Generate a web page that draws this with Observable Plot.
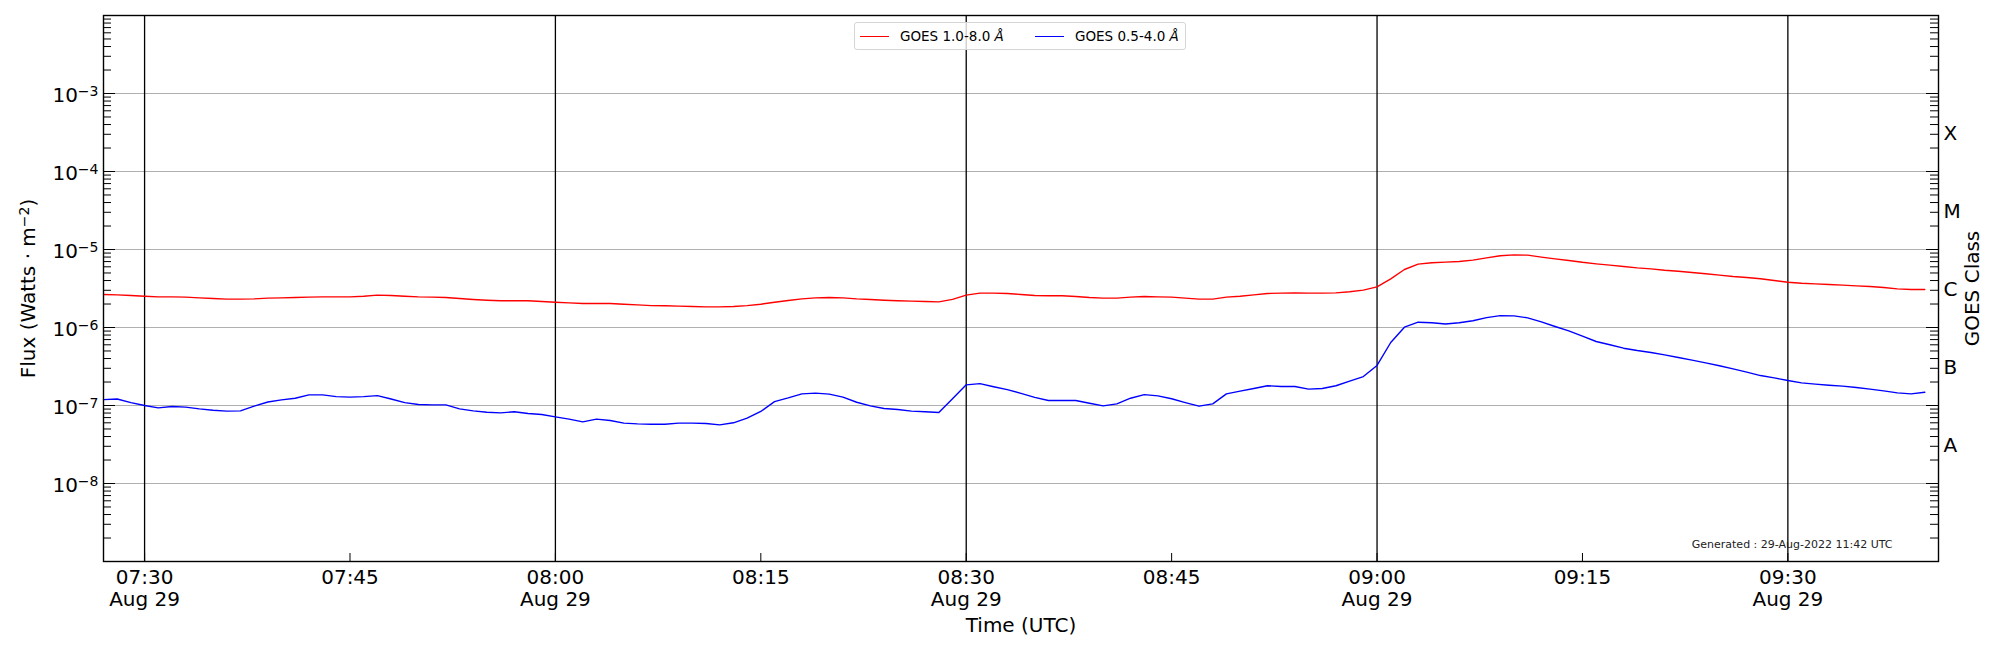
<!DOCTYPE html>
<html><head><meta charset="utf-8">
<script src="https://cdn.jsdelivr.net/npm/d3@7"></script>
<script src="https://cdn.jsdelivr.net/npm/@observablehq/plot@0.6"></script>
<style>
html,body{margin:0;padding:0;background:#fff;}
#wrap{position:relative;width:2000px;height:650px;font-family:"DejaVu Sans",sans-serif;}
#legend{position:absolute;left:854px;top:22px;width:332px;height:28px;border:1px solid #d5d5d5;border-radius:3px;background:rgba(255,255,255,0.8);box-sizing:border-box;}
.sw{position:absolute;top:13px;width:29px;height:0;border-top:1.4px solid;}
.lt{position:absolute;top:0;line-height:27px;font-size:13.5px;color:#000;white-space:nowrap;}
</style></head>
<body><div id="wrap"><div id="chart"></div><div id="legend"></div></div>
<script>
// ---- data (1-minute cadence starting 07:27 UTC, 29 Aug 2022) ----
const startTime = "2022-08-29T07:27:00Z";
const seriesNames = ["GOES 1.0-8.0", "GOES 0.5-4.0"];
const seriesUnit = "Å";
const seriesColors = ["#ff0000", "#0000ff"];

const xrsLong = [
2.65e-6,2.62e-6,2.57e-6,2.52e-6,2.47e-6,2.47e-6,2.45e-6,2.40e-6,2.35e-6,2.31e-6,
2.31e-6,2.33e-6,2.38e-6,2.40e-6,2.42e-6,2.45e-6,2.47e-6,2.47e-6,2.47e-6,2.52e-6,
2.60e-6,2.57e-6,2.52e-6,2.47e-6,2.45e-6,2.42e-6,2.35e-6,2.29e-6,2.24e-6,2.20e-6,
2.20e-6,2.20e-6,2.15e-6,2.11e-6,2.07e-6,2.03e-6,2.03e-6,2.03e-6,1.99e-6,1.95e-6,
1.91e-6,1.90e-6,1.88e-6,1.86e-6,1.84e-6,1.84e-6,1.86e-6,1.91e-6,1.99e-6,2.11e-6,
2.22e-6,2.33e-6,2.40e-6,2.42e-6,2.40e-6,2.33e-6,2.29e-6,2.24e-6,2.20e-6,2.18e-6,
2.15e-6,2.13e-6,2.29e-6,2.60e-6,2.76e-6,2.76e-6,2.73e-6,2.65e-6,2.57e-6,2.55e-6,
2.55e-6,2.50e-6,2.42e-6,2.38e-6,2.38e-6,2.45e-6,2.50e-6,2.47e-6,2.45e-6,2.38e-6,
2.31e-6,2.31e-6,2.45e-6,2.52e-6,2.62e-6,2.73e-6,2.76e-6,2.78e-6,2.76e-6,2.76e-6,
2.78e-6,2.87e-6,3.01e-6,3.32e-6,4.21e-6,5.54e-6,6.49e-6,6.75e-6,6.88e-6,7.02e-6,
7.30e-6,7.82e-6,8.30e-6,8.54e-6,8.46e-6,7.98e-6,7.59e-6,7.23e-6,6.85e-6,6.55e-6,
6.30e-6,6.05e-6,5.82e-6,5.65e-6,5.43e-6,5.27e-6,5.07e-6,4.88e-6,4.69e-6,4.51e-6,
4.38e-6,4.21e-6,4.00e-6,3.81e-6,3.70e-6,3.63e-6,3.56e-6,3.49e-6,3.42e-6,3.35e-6,
3.26e-6,3.13e-6,3.07e-6,3.07e-6
];

const xrsShort = [
1.19e-7,1.21e-7,1.09e-7,1.00e-7,9.33e-8,9.71e-8,9.52e-8,9.06e-8,8.71e-8,8.46e-8,
8.54e-8,9.80e-8,1.11e-7,1.18e-7,1.24e-7,1.37e-7,1.37e-7,1.30e-7,1.28e-7,1.30e-7,
1.34e-7,1.21e-7,1.09e-7,1.03e-7,1.02e-7,1.02e-7,9.06e-8,8.54e-8,8.21e-8,8.05e-8,
8.30e-8,7.90e-8,7.67e-8,7.16e-8,6.68e-8,6.17e-8,6.68e-8,6.42e-8,5.94e-8,5.82e-8,
5.76e-8,5.76e-8,5.94e-8,5.94e-8,5.88e-8,5.65e-8,6.00e-8,6.88e-8,8.38e-8,1.12e-7,
1.25e-7,1.41e-7,1.44e-7,1.40e-7,1.28e-7,1.10e-7,9.90e-8,9.15e-8,8.89e-8,8.46e-8,
8.30e-8,8.13e-8,1.22e-7,1.84e-7,1.91e-7,1.74e-7,1.60e-7,1.43e-7,1.27e-7,1.16e-7,
1.16e-7,1.16e-7,1.07e-7,9.90e-8,1.05e-7,1.24e-7,1.38e-7,1.33e-7,1.22e-7,1.09e-7,
9.80e-8,1.05e-7,1.41e-7,1.53e-7,1.65e-7,1.79e-7,1.75e-7,1.75e-7,1.62e-7,1.65e-7,
1.79e-7,2.05e-7,2.35e-7,3.26e-7,6.42e-7,1.01e-6,1.17e-6,1.15e-6,1.11e-6,1.15e-6,
1.22e-6,1.34e-6,1.42e-6,1.41e-6,1.33e-6,1.18e-6,1.03e-6,9.06e-7,7.74e-7,6.61e-7,
6.00e-7,5.43e-7,5.07e-7,4.78e-7,4.46e-7,4.13e-7,3.81e-7,3.52e-7,3.23e-7,2.95e-7,
2.68e-7,2.42e-7,2.26e-7,2.09e-7,1.95e-7,1.88e-7,1.82e-7,1.77e-7,1.70e-7,1.62e-7,
1.54e-7,1.45e-7,1.41e-7,1.48e-7
];

// axes / labels
const xDomain = ["2022-08-29T07:27:00Z", "2022-08-29T09:41:00Z"];
const xTickTimes = ["07:30","07:45","08:00","08:15","08:30","08:45","09:00","09:15","09:30"];
const xTickLabels = ["07:30\nAug 29","07:45","08:00\nAug 29","08:15","08:30\nAug 29","08:45","09:00\nAug 29","09:15","09:30\nAug 29"];
const xMajorLines = ["07:30","08:00","08:30","09:00","09:30"];
const yDomain = [1e-9, 1e-2];
const yGrid = [1e-8, 1e-7, 1e-6, 1e-5, 1e-4, 1e-3];
const yTickLabels = ["10⁻⁸","10⁻⁷","10⁻⁶","10⁻⁵","10⁻⁴","10⁻³"];
const classFlux = [3.16e-8, 3.16e-7, 3.16e-6, 3.16e-5, 3.16e-4];
const classLabels = ["A","B","C","M","X"];
const xLabel = "Time (UTC)";
const yLabel = "Flux (Watts · m⁻²)";
const y2Label = "GOES Class";
const generatedText = "Generated : 29-Aug-2022 11:42 UTC";

// ---- build ----
const t0 = new Date(startTime).getTime();
const rows = [];
xrsLong.forEach((v, i) => rows.push({time: new Date(t0 + i * 60000), flux: v, s: 0}));
xrsShort.forEach((v, i) => rows.push({time: new Date(t0 + i * 60000), flux: v, s: 1}));
const hm = s => new Date(`2022-08-29T${s}:00Z`);

const W = 2000, H = 650, mL = 103, mR = 62, mT = 15, mB = 89;
const fw = W - mL - mR, fh = H - mT - mB;

const majorDecades = d3.range(-9, -1).map(k => 10 ** k);
const minorTicks = [];
for (let k = -9; k < -2; k++) for (let m = 2; m <= 9; m++) minorTicks.push(m * 10 ** k);

const chart = Plot.plot({
  width: W, height: H,
  marginLeft: mL, marginRight: mR, marginTop: mT, marginBottom: mB,
  style: {fontFamily: "DejaVu Sans, sans-serif", fontSize: "20px", background: "white", color: "black"},
  x: {type: "utc", domain: xDomain.map(d => new Date(d)), axis: null},
  y: {type: "log", domain: yDomain, axis: null},
  marks: [
    Plot.ruleY(yGrid, {y: d => d, stroke: "#b0b0b0", strokeWidth: 1}),
    Plot.ruleX(xMajorLines.map(hm), {x: d => d, stroke: "black", strokeWidth: 1.3}),
    Plot.line(rows.filter(d => d.s === 0), {x: "time", y: "flux", stroke: seriesColors[0], strokeWidth: 1.4}),
    Plot.line(rows.filter(d => d.s === 1), {x: "time", y: "flux", stroke: seriesColors[1], strokeWidth: 1.4}),
    // inward ticks, left & right
    Plot.tickY(majorDecades, {y: d => d, insetRight: fw - 12, stroke: "black"}),
    Plot.tickY(minorTicks, {y: d => d, insetRight: fw - 8, stroke: "black"}),
    Plot.tickY(majorDecades, {y: d => d, insetLeft: fw - 12, stroke: "black"}),
    Plot.tickY(minorTicks, {y: d => d, insetLeft: fw - 8, stroke: "black"}),
    Plot.tickX(xTickTimes.map(hm), {x: d => d, insetTop: fh - 8, stroke: "black"}),
    Plot.frame({stroke: "black", strokeWidth: 1.4}),
    // tick labels
    Plot.text(yGrid, {y: d => d, text: (d, i) => yTickLabels[i], frameAnchor: "left", textAnchor: "end", lineAnchor: "middle", dx: -5, dy: 2, fontSize: 20}),
    Plot.text(xTickTimes.map(hm), {x: d => d, text: (d, i) => xTickLabels[i], frameAnchor: "bottom", textAnchor: "middle", lineAnchor: "top", dy: 6, fontSize: 20, lineHeight: 1.13}),
    Plot.text(classFlux, {y: d => d, text: (d, i) => classLabels[i], frameAnchor: "right", textAnchor: "start", lineAnchor: "middle", dx: 5, dy: 1, fontSize: 20}),
    // axis titles
    Plot.text([xLabel], {text: d => d, frameAnchor: "bottom", textAnchor: "middle", lineAnchor: "middle", dy: 64, fontSize: 20}),
    Plot.text([yLabel], {text: d => d, frameAnchor: "left", textAnchor: "middle", lineAnchor: "middle", dx: -75, rotate: -90, fontSize: 20}),
    Plot.text([y2Label], {text: d => d, frameAnchor: "right", textAnchor: "middle", lineAnchor: "middle", dx: 34, rotate: -90, fontSize: 20}),
    Plot.text([generatedText], {text: d => d, frameAnchor: "bottom-right", textAnchor: "end", lineAnchor: "middle", dx: -46, dy: -17, fontSize: 11, fill: "#222"})
  ]
});
document.getElementById("chart").appendChild(chart);

// superscripts as real tspans
const supMap = {"⁰":"0","¹":"1","²":"2","³":"3","⁴":"4","⁵":"5","⁶":"6","⁷":"7","⁸":"8","⁹":"9","⁻":"−"};
const supRe = /[⁰¹²³⁴⁵⁶⁷⁸⁹⁻]/;
chart.querySelectorAll("text").forEach(el => {
  if (el.children.length) return;
  const s = el.textContent;
  if (!supRe.test(s)) return;
  el.textContent = "";
  for (const r of s.match(/[⁰¹²³⁴⁵⁶⁷⁸⁹⁻]+|[^⁰¹²³⁴⁵⁶⁷⁸⁹⁻]+/g)) {
    const ts = document.createElementNS("http://www.w3.org/2000/svg", "tspan");
    if (supRe.test(r[0])) {
      ts.textContent = [...r].map(c => supMap[c]).join("");
      ts.setAttribute("font-size", "0.7em");
      ts.setAttribute("baseline-shift", "45%");
    } else ts.textContent = r;
    el.appendChild(ts);
  }
});

// legend (inside plot, top centre)
const lg = document.getElementById("legend");
const lgPos = [{sw: 5, tx: 45}, {sw: 180, tx: 220}];
seriesNames.forEach((n, i) => {
  const sw = document.createElement("div");
  sw.className = "sw"; sw.style.left = lgPos[i].sw + "px"; sw.style.borderTopColor = seriesColors[i];
  lg.appendChild(sw);
  const tx = document.createElement("div");
  tx.className = "lt"; tx.style.left = lgPos[i].tx + "px";
  tx.innerHTML = n + " <i>" + seriesUnit + "</i>";
  lg.appendChild(tx);
});
</script></body></html>
